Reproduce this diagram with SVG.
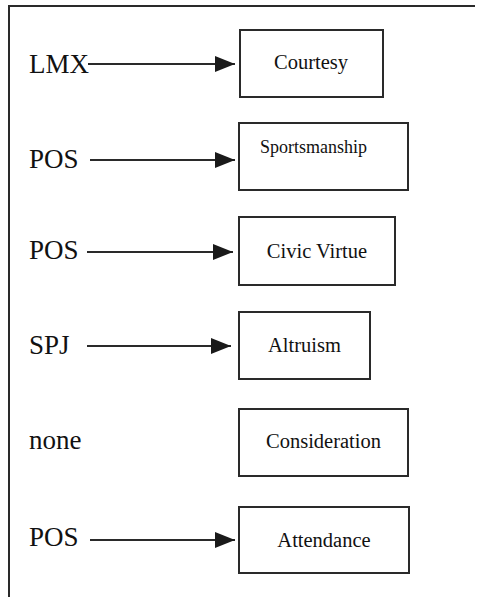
<svg xmlns="http://www.w3.org/2000/svg" width="477" height="597" viewBox="0 0 477 597">
  <style>
    .frame { fill: none; stroke: #2a2a2a; stroke-width: 2; }
    .box rect { fill: #ffffff; stroke: #2a2a2a; stroke-width: 2; }
    text { font-family: 'Liberation Serif', 'Times New Roman', 'DejaVu Serif', serif; fill: #111; }
    .lbl { font-size: 27px; }
    .box text { font-size: 20.5px; text-anchor: middle; }
    .box text.small { font-size: 18px; text-anchor: start; }
    .conn line { stroke: #2a2a2a; stroke-width: 2; marker-end: url(#head); }
  </style>
  <defs>
    <marker id="head" markerUnits="userSpaceOnUse" viewBox="0 0 20 16" refX="20" refY="8" markerWidth="20" markerHeight="16" orient="auto">
      <path d="M0,0 L20,8 L0,16 z" fill="#1a1a1a"/>
    </marker>
  </defs>
  <rect width="477" height="597" fill="#ffffff"/>

  <!-- open frame: top and left sides only -->
  <path class="frame" d="M9,597 V6 H475"/>

  <!-- predictor labels -->
  <g id="src-lmx"><text class="lbl" x="29" y="73">LMX</text></g>
  <g id="src-pos1"><text class="lbl" x="29" y="168">POS</text></g>
  <g id="src-pos2"><text class="lbl" x="29" y="259">POS</text></g>
  <g id="src-spj"><text class="lbl" x="29" y="354">SPJ</text></g>
  <g id="src-none"><text class="lbl" x="29" y="449">none</text></g>
  <g id="src-pos3"><text class="lbl" x="29" y="546">POS</text></g>

  <!-- outcome boxes -->
  <g id="courtesy" class="box">
    <rect x="240" y="30" width="143" height="67"/>
    <text x="311" y="69">Courtesy</text>
  </g>
  <g id="sportsmanship" class="box">
    <rect x="239" y="123" width="169" height="67"/>
    <text class="small" x="260" y="153">Sportsmanship</text>
  </g>
  <g id="civic-virtue" class="box">
    <rect x="239" y="217" width="156" height="68"/>
    <text x="317" y="258">Civic Virtue</text>
  </g>
  <g id="altruism" class="box">
    <rect x="239" y="312" width="131" height="67"/>
    <text x="304.5" y="352">Altruism</text>
  </g>
  <g id="consideration" class="box">
    <rect x="239" y="409" width="169" height="67"/>
    <text x="323.5" y="448">Consideration</text>
  </g>
  <g id="attendance" class="box">
    <rect x="239" y="507" width="170" height="66"/>
    <text x="324" y="547">Attendance</text>
  </g>

  <!-- connectors -->
  <g id="connectors" class="conn">
    <line x1="88" y1="64" x2="235" y2="64"/>
    <line x1="90" y1="160" x2="235" y2="160"/>
    <line x1="87" y1="252" x2="233" y2="252"/>
    <line x1="87" y1="346" x2="231" y2="346"/>
    <line x1="90" y1="540" x2="235" y2="540"/>
  </g>
</svg>
